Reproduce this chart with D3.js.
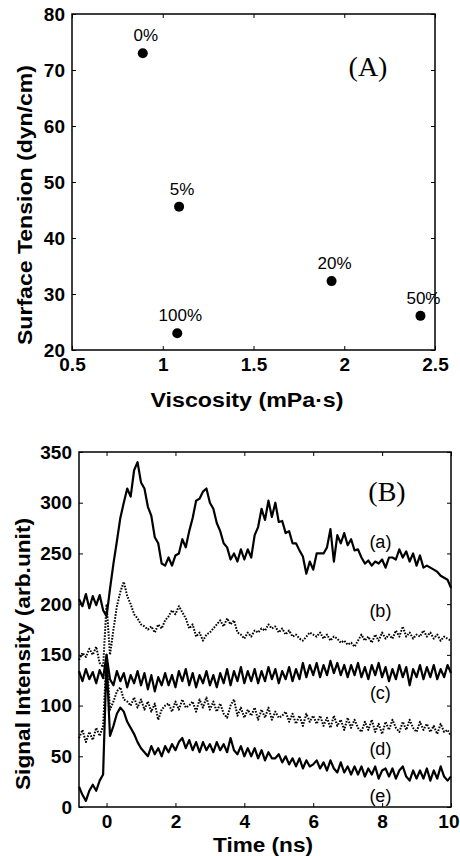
<!DOCTYPE html>
<html>
<head>
<meta charset="utf-8">
<script src="https://cdn.jsdelivr.net/npm/d3@7"></script>
<style>
  body { margin: 0; background: #fff; }
  .tick text { font-family: "Liberation Sans", Arial, sans-serif; font-weight: bold; font-size: 19px; fill: #000; }
  .tick line { stroke: #000; stroke-width: 1; }
  .domain { display: none; }
</style>
</head>
<body>
<div id="chart"></div>
<script>
// ---- panel A data ----
var viscosity = [0.89, 1.09, 1.08, 1.93, 2.42]
var surfaceTension = [73.0, 45.6, 23.0, 32.3, 26.1]
var pointLabels = ["0%", "5%", "100%", "20%", "50%"]
var xTicksA = [0.5, 1, 1.5, 2, 2.5]
var yTicksA = [20, 30, 40, 50, 60, 70, 80]

// ---- panel B data (time in ns, intensity in arb. unit) ----
var timeNs = [
  -0.8, -0.7, -0.6, -0.5, -0.4, -0.3, -0.2, -0.1, 0.0, 0.1,
  0.2, 0.3, 0.4, 0.5, 0.6, 0.7, 0.8, 0.9, 1.0, 1.1,
  1.2, 1.3, 1.4, 1.5, 1.6, 1.7, 1.8, 1.9, 2.0, 2.1,
  2.2, 2.3, 2.4, 2.5, 2.6, 2.7, 2.8, 2.9, 3.0, 3.1,
  3.2, 3.3, 3.4, 3.5, 3.6, 3.7, 3.8, 3.9, 4.0, 4.1,
  4.2, 4.3, 4.4, 4.5, 4.6, 4.7, 4.8, 4.9, 5.0, 5.1,
  5.2, 5.3, 5.4, 5.5, 5.6, 5.7, 5.8, 5.9, 6.0, 6.1,
  6.2, 6.3, 6.4, 6.5, 6.6, 6.7, 6.8, 6.9, 7.0, 7.1,
  7.2, 7.3, 7.4, 7.5, 7.6, 7.7, 7.8, 7.9, 8.0, 8.1,
  8.2, 8.3, 8.4, 8.5, 8.6, 8.7, 8.8, 8.9, 9.0, 9.1,
  9.2, 9.3, 9.4, 9.5, 9.6, 9.7, 9.8, 9.9, 10.0
]
var signalA = [
  205, 198, 210, 196, 208, 199, 209, 194, 188, 215,
  240, 262, 285, 300, 314, 306, 332, 340, 320, 314,
  296, 287, 266, 260, 240, 238, 246, 238, 248, 250,
  264, 256, 272, 285, 302, 304, 311, 314, 300, 294,
  280, 272, 260, 256, 244, 250, 242, 254, 244, 254,
  246, 268, 276, 294, 283, 302, 286, 300, 281, 282,
  270, 272, 260, 260, 253, 247, 230, 242, 234, 250,
  250, 250, 256, 274, 242, 268, 260, 270, 258, 264,
  253, 254, 246, 240, 243, 238, 242, 240, 244, 236,
  246, 246, 244, 254, 246, 252, 242, 250, 238, 248,
  236, 238, 236, 234, 232, 228, 226, 224, 216
]
var signalB = [
  145, 152, 148, 156, 150, 158, 142, 138, 200, 150,
  175, 198, 212, 222, 208, 200, 190, 186, 180, 178,
  175, 178, 172, 180, 176, 184, 188, 194, 190, 198,
  192, 186, 176, 180, 168, 172, 164, 170, 172, 176,
  180, 184, 178, 186, 180, 184, 172, 170, 166, 172,
  168, 174, 172, 176, 174, 180, 176, 178, 172, 176,
  170, 174, 168, 170, 166, 164, 168, 172, 170, 168,
  172, 166, 170, 164, 168, 166, 162, 164, 160, 162,
  158, 164, 170, 164, 168, 162, 170, 164, 172, 166,
  170, 166, 174, 168, 178, 168, 172, 166, 170, 168,
  174, 168, 172, 166, 170, 164, 168, 166, 164
]
var signalC = [
  134, 124, 136, 126, 133, 122, 135, 127, 150, 126,
  120, 134, 124, 132, 118, 130, 122, 134, 120, 132,
  116, 130, 114, 128, 120, 132, 120, 130, 118, 134,
  124, 136, 120, 132, 118, 130, 122, 134, 120, 130,
  118, 132, 122, 136, 120, 134, 124, 138, 122, 134,
  124, 136, 122, 134, 124, 138, 126, 136, 122, 134,
  126, 138, 124, 136, 126, 142, 128, 140, 130, 142,
  128, 140, 130, 144, 132, 142, 130, 140, 128, 140,
  130, 142, 128, 138, 126, 140, 130, 142, 128, 138,
  124, 136, 126, 140, 128, 138, 120, 136, 128, 140,
  126, 138, 128, 140, 126, 136, 128, 140, 132
]
var signalD = [
  68, 76, 64, 74, 66, 78, 70, 80, 150, 96,
  104, 114, 118, 106, 104, 100, 108, 98, 106, 96,
  104, 94, 102, 86, 96, 100, 102, 94, 104, 96,
  106, 98, 100, 104, 94, 106, 98, 108, 96, 104,
  94, 102, 92, 88, 100, 106, 90, 98, 88, 96,
  90, 98, 86, 96, 88, 98, 86, 94, 88, 90,
  94, 84, 92, 82, 90, 80, 92, 84, 90, 82,
  90, 80, 88, 78, 90, 80, 86, 76, 88, 78,
  86, 78, 74, 84, 76, 86, 74, 82, 72, 84,
  76, 86, 78, 74, 84, 76, 86, 78, 74, 84,
  76, 82, 74, 80, 72, 82, 74, 76, 70
]
var signalE = [
  20, 12, 6, 16, 22, 16, 26, 32, 145, 70,
  80, 92, 98, 94, 84, 78, 72, 64, 58, 54,
  50, 60, 52, 58, 50, 60, 54, 62, 56, 64,
  68, 58, 66, 56, 64, 54, 64, 56, 62, 54,
  64, 56, 62, 54, 68, 56, 52, 60, 50, 58,
  50, 58, 48, 56, 46, 54, 48, 48, 52, 44,
  50, 42, 48, 40, 48, 38, 46, 40, 42, 46,
  38, 44, 36, 46, 38, 34, 44, 34, 40, 32,
  40, 32, 40, 30, 38, 32, 40, 28, 36, 38,
  30, 38, 28, 36, 40, 30, 26, 36, 28, 36,
  28, 38, 26, 36, 28, 40, 30, 26, 30
]
var curveNames = ["(a)", "(b)", "(c)", "(d)", "(e)"]
var curveDotted = [false, true, false, true, false]
var curveLabelY = [255, 187, 106, 51, 5]
var xTicksB = [0, 2, 4, 6, 8, 10]
var yTicksB = [0, 50, 100, 150, 200, 250, 300, 350]

var width = 460
var height = 856
var sans = "'Liberation Sans', Arial, sans-serif"
var serif = "'Liberation Serif', 'Times New Roman', serif"

var svg = d3.select("#chart")
  .append("svg")
    .attr("width", width)
    .attr("height", height)

// frame + inward ticks on all four sides
function frame(g, x, y, xt, yt) {
  var x0 = x.range()[0], x1 = x.range()[1]
  var y0 = y.range()[0], y1 = y.range()[1]
  var bottom = g.append("g").attr("transform", "translate(0," + y0 + ")")
    .call(d3.axisBottom(x).tickValues(xt).tickSizeInner(-4).tickSizeOuter(0).tickPadding(8).tickFormat(d3.format("")))
  g.append("g").attr("transform", "translate(0," + y1 + ")")
    .call(d3.axisTop(x).tickValues(xt).tickSizeInner(-4).tickSizeOuter(0).tickFormat(""))
  g.append("g").attr("transform", "translate(" + x0 + ",0)")
    .call(d3.axisLeft(y).tickValues(yt).tickSizeInner(-4).tickSizeOuter(0).tickPadding(7))
  g.append("g").attr("transform", "translate(" + x1 + ",0)")
    .call(d3.axisRight(y).tickValues(yt).tickSizeInner(-4).tickSizeOuter(0).tickFormat(""))
  g.append("rect")
    .attr("x", x0).attr("y", y1)
    .attr("width", x1 - x0).attr("height", y0 - y1)
    .attr("fill", "none").attr("stroke", "#000").attr("stroke-width", 1.5)
  return bottom
}

function title(g, txt, x, y, len, rotate) {
  g.append("text")
    .attr("transform", "translate(" + x + "," + y + ")" + (rotate ? " rotate(-90)" : ""))
    .attr("text-anchor", "middle")
    .attr("textLength", len)
    .attr("lengthAdjust", "spacingAndGlyphs")
    .style("font-family", sans).style("font-weight", "bold").style("font-size", "20px")
    .text(txt)
}

// ---------- panel A ----------
var xA = d3.scaleLinear().domain([0.5, 2.5]).range([72, 435])
var yA = d3.scaleLinear().domain([20, 80]).range([350, 14])
var gA = svg.append("g")
frame(gA, xA, yA, xTicksA, yTicksA)

gA.selectAll(".pt")
  .data(viscosity)
  .enter()
  .append("circle")
    .attr("cx", function(d) { return xA(d) })
    .attr("cy", function(d, i) { return yA(surfaceTension[i]) })
    .attr("r", 5)
    .attr("fill", "#000")

gA.selectAll(".plab")
  .data(pointLabels)
  .enter()
  .append("text")
    .attr("x", function(d, i) { return xA(viscosity[i]) + 3 })
    .attr("y", function(d, i) { return yA(surfaceTension[i]) - 12 })
    .attr("text-anchor", "middle")
    .style("font-family", sans)
    .style("font-size", "17px")
    .text(function(d) { return d })

gA.append("text")
  .attr("x", 368).attr("y", 76)
  .attr("text-anchor", "middle")
  .style("font-family", serif)
  .style("font-size", "28px")
  .text("(A)")

title(gA, "Viscosity (mPa\u00b7s)", 247, 407, 193, false)
title(gA, "Surface Tension (dyn/cm)", 32, 205, 280, true)

// ---------- panel B ----------
var xB = d3.scaleLinear().domain([-0.8, 10]).range([79, 451])
var yB = d3.scaleLinear().domain([0, 350]).range([807, 452])
var gB = svg.append("g")
var bottomB = frame(gB, xB, yB, xTicksB, yTicksB)
// last label sits against the page edge, as in the original
bottomB.selectAll(".tick text")
  .filter(function(d) { return d === 10 })
  .attr("text-anchor", "end")
  .attr("x", 8)

var series = [signalA, signalB, signalC, signalD, signalE]
var line = d3.line()
  .x(function(d, i) { return xB(timeNs[i]) })
  .y(function(d) { return yB(d) })

gB.selectAll(".curve")
  .data(series)
  .enter()
  .append("path")
    .attr("d", line)
    .attr("fill", "none")
    .attr("stroke", "#000")
    .attr("stroke-width", function(d, i) { return curveDotted[i] ? 2 : 2.2 })
    .attr("stroke-dasharray", function(d, i) { return curveDotted[i] ? "1.6,1.4" : null })
    .attr("stroke-linejoin", "round")

gB.selectAll(".clab")
  .data(curveNames)
  .enter()
  .append("text")
    .attr("x", xB(7.95))
    .attr("y", function(d, i) { return yB(curveLabelY[i]) })
    .attr("text-anchor", "middle")
    .style("font-family", sans)
    .style("font-size", "18px")
    .text(function(d) { return d })

gB.append("text")
  .attr("x", 387).attr("y", 501)
  .attr("text-anchor", "middle")
  .style("font-family", serif)
  .style("font-size", "28px")
  .text("(B)")

title(gB, "Time (ns)", 263, 852, 100, false)
title(gB, "Signal Intensity (arb.unit)", 30, 654, 272, true)
</script>
</body>
</html>
